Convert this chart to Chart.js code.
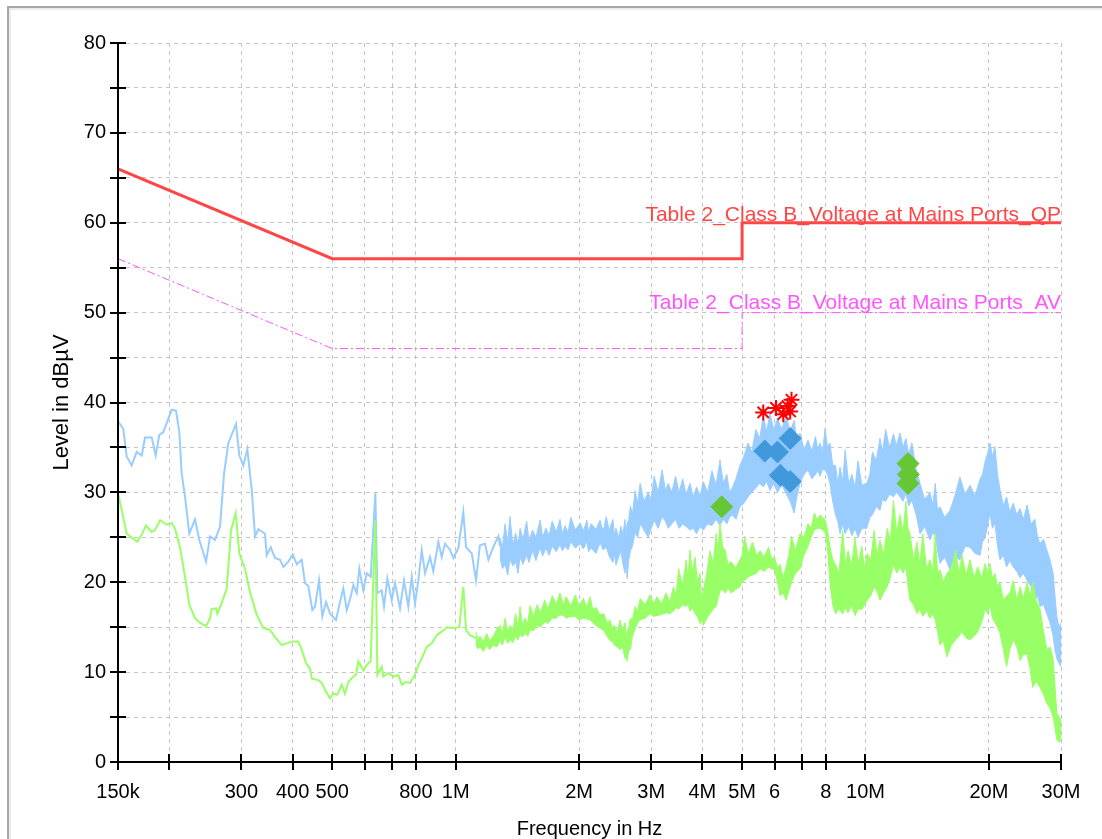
<!DOCTYPE html>
<html><head><meta charset="utf-8">
<script src="https://cdn.jsdelivr.net/npm/chart.js@4.4.1/dist/chart.umd.min.js"></script>
<style>
html,body{margin:0;padding:0;background:#fff;overflow:hidden;}
#wrap{position:relative;width:1102px;height:839px;overflow:hidden;}
#frame{position:absolute;left:7px;top:6px;width:1200px;height:1000px;border-left:2px solid #a8a8a8;border-top:2px solid #a8a8a8;box-shadow:inset 2px 2px 0 #ececec;pointer-events:none;}
canvas{position:absolute;left:0;top:0;}
</style></head><body>
<div id="wrap"><canvas id="c" width="1102" height="839"></canvas><div id="frame"></div></div>
<script>
// ---- axis ticks (frequency in MHz) ----
const xTickValues = [0.15,0.2,0.3,0.4,0.5,0.6,0.7,0.8,1,2,3,4,5,6,7,8,10,20,30];
const xTickLabels = ['150k','','300','400','500','','','800','1M','2M','3M','4M','5M','6','','8','10M','20M','30M'];
const yTickValues = [0,5,10,15,20,25,30,35,40,45,50,55,60,65,70,75,80];
const yTickLabels = ['0','','10','','20','','30','','40','','50','','60','','70','','80'];

// ---- limit lines ----
const qpFreq  = [0.15, 0.5, 5, 5, 30];
const qpLevel = [66, 56, 56, 60, 60];
const avFreq  = [0.15, 0.5, 5, 5, 30];
const avLevel = [56, 46, 46, 50, 50];
const qpLabel = 'Table 2_Class B_Voltage at Mains Ports_QP';
const avLabel = 'Table 2_Class B_Voltage at Mains Ports_AV';

// ---- peak trace (blue): single line part [MHz, dBuV] ----
const pkLine = [[0.150,37.9],[0.1545,37.1],[0.1575,34.0],[0.162,33.0],[0.1666,34.5],[0.1714,34.1],[0.1746,36.1],[0.1813,36.1],[0.1854,34.1],[0.1892,36.4],[0.1935,36.7],[0.2028,39.2],[0.2078,39.1],[0.2117,36.7],[0.2145,32.1],[0.2186,29.5],[0.2239,25.4],[0.2312,27.0],[0.2369,24.7],[0.246,22.3],[0.2516,25.1],[0.2587,24.7],[0.2661,26.2],[0.2722,32.1],[0.2788,35.5],[0.2911,37.6],[0.2966,34.1],[0.3033,33.0],[0.3102,34.8],[0.318,30.3],[0.3239,25.1],[0.330,25.9],[0.3426,25.4],[0.3459,23.0],[0.3538,23.9],[0.3624,22.7],[0.3728,22.5],[0.3798,21.7],[0.3906,22.3],[0.4004,23.1],[0.4095,22.0],[0.4211,22.5],[0.429,19.9],[0.437,19.6],[0.447,16.9],[0.4538,17.3],[0.4641,20.2],[0.4728,16.2],[0.4828,17.8],[0.4937,16.5],[0.5106,15.8],[0.5222,17.8],[0.532,19.3],[0.5423,16.9],[0.5545,18.4],[0.5627,19.7],[0.5736,18.8],[0.582,21.5],[0.5953,19.1],[0.6068,21.0],[0.6205,20.6],[0.6368,29.9],[0.644,18.8],[0.660,19.1],[0.6687,17.3],[0.6813,20.4],[0.6983,18.0],[0.7113,19.9],[0.7315,17.1],[0.7482,20.2],[0.7665,17.3],[0.7814,20.6],[0.7959,17.6],[0.8109,20.2],[0.8265,23.6],[0.8419,21.0],[0.8659,22.8],[0.8822,21.2],[0.9073,24.5],[0.9248,22.8],[0.9422,24.3],[0.9691,23.6],[0.9871,22.7],[1.015,23.8],[1.044,27.8],[1.060,23.9],[1.095,23.2],[1.121,20.2],[1.146,24.1],[1.179,24.3],[1.202,22.5],[1.235,23.9],[1.271,25.1],[1.283,24.0]];
// ---- peak trace (blue): dense part [MHz, high, low] ----
const pkBand = [[1.283,25.0,22.8],[1.30,23.8,21.5],[1.32,26.5,22.0],[1.34,24.5,20.8],[1.357,27.3,22.6],[1.38,24.0,21.8],[1.40,25.5,22.3],[1.42,24.2,21.0],[1.436,26.0,22.8],[1.46,24.8,22.0],[1.49,26.8,23.0],[1.51,24.6,22.2],[1.54,25.8,23.5],[1.57,25.0,22.4],[1.607,26.9,23.9],[1.63,25.0,22.9],[1.66,26.0,23.8],[1.69,25.2,23.0],[1.72,26.8,24.0],[1.76,25.6,23.4],[1.797,27.0,24.2],[1.82,25.4,23.5],[1.85,26.3,24.0],[1.88,25.5,23.6],[1.91,27.2,24.5],[1.96,25.8,23.8],[2.012,26.6,24.3],[2.05,25.7,23.7],[2.09,26.9,24.5],[2.11,25.6,23.4],[2.14,26.5,23.8],[2.2,25.9,23.2],[2.251,26.9,24.4],[2.29,25.6,23.6],[2.33,27.3,23.9],[2.37,25.8,22.9],[2.42,27.0,22.2],[2.44,25.2,23.3],[2.46,26.0,21.9],[2.50,25.0,22.8],[2.53,26.2,23.5],[2.56,25.4,22.0],[2.59,27.0,21.0],[2.605,25.0,22.5],[2.62,26.5,20.4],[2.645,27.0,22.5],[2.67,28.5,23.5],[2.70,27.5,24.0],[2.74,30.2,25.5],[2.78,28.8,25.0],[2.82,31.0,26.5],[2.88,29.0,25.8],[2.95,30.0,25.0],[3.00,29.2,26.0],[3.05,31.8,26.9],[3.12,30.0,26.0],[3.19,32.5,27.3],[3.25,30.2,26.8],[3.30,31.0,26.0],[3.37,30.0,26.5],[3.44,31.8,27.0],[3.51,30.0,26.0],[3.58,31.5,26.5],[3.65,29.8,26.2],[3.731,31.0,25.8],[3.80,29.5,26.0],[3.87,30.6,25.4],[3.95,29.6,26.2],[4.02,31.2,25.8],[4.12,30.0,26.5],[4.22,32.4,26.3],[4.32,30.8,27.0],[4.416,33.6,26.3],[4.50,31.0,27.0],[4.59,32.0,26.5],[4.66,30.0,27.2],[4.73,30.5,27.5],[4.83,31.5,27.0],[4.94,33.0,28.4],[5.05,34.0,28.8],[5.17,35.5,29.5],[5.28,34.5,30.0],[5.40,37.0,30.5],[5.52,36.0,31.0],[5.63,38.5,30.6],[5.74,36.8,31.2],[5.85,38.8,30.2],[5.97,37.0,31.0],[6.1,38.2,30.0],[6.25,37.0,30.8],[6.4,38.6,29.9],[6.55,36.8,29.0],[6.7,38.0,27.7],[6.8,35.5,29.5],[6.92,36.6,31.0],[7.08,34.8,32.0],[7.24,35.8,32.5],[7.4,34.6,31.5],[7.55,36.2,32.0],[7.65,34.8,32.4],[7.75,35.5,31.8],[7.86,34.5,32.6],[7.97,37.1,32.5],[8.08,35.0,32.0],[8.19,35.5,31.0],[8.32,33.0,29.0],[8.45,33.0,27.5],[8.56,31.0,26.8],[8.67,32.8,25.4],[8.8,31.2,26.5],[8.92,34.7,25.4],[9.1,31.0,26.2],[9.27,32.0,25.2],[9.43,30.5,26.0],[9.59,33.5,25.0],[9.8,30.8,26.0],[10.07,31.0,26.0],[10.25,32.0,27.2],[10.4,34.5,27.5],[10.62,33.5,28.4],[10.85,36.0,28.0],[11.0,34.5,29.2],[11.2,37.0,29.0],[11.45,35.0,29.8],[11.7,36.5,29.5],[11.9,35.2,30.0],[12.14,36.6,29.5],[12.35,35.0,29.0],[12.55,36.0,29.9],[12.75,34.2,28.5],[12.98,35.5,29.1],[13.3,32.5,27.5],[13.59,31.0,25.4],[13.95,29.2,26.2],[14.37,30.0,24.7],[14.6,28.6,25.5],[14.8,31.0,25.2],[15.0,28.0,23.5],[15.2,28.4,22.1],[15.6,27.2,22.8],[16.08,28.0,21.4],[16.5,29.5,22.8],[17.0,31.7,22.5],[17.5,29.8,24.0],[18.0,30.8,23.9],[18.5,29.6,23.2],[19.04,31.5,23.0],[19.3,32.0,24.5],[19.6,33.5,25.0],[19.9,34.5,26.5],[20.14,35.5,27.7],[20.4,34.0,26.0],[20.7,35.1,26.6],[21.0,32.0,24.0],[21.3,30.3,22.5],[21.7,28.5,23.0],[22.1,29.5,21.7],[22.5,27.8,22.4],[22.95,28.8,21.7],[23.4,27.5,21.2],[23.84,28.2,20.5],[24.3,27.0,21.0],[24.8,28.6,20.2],[25.35,26.5,19.5],[25.9,27.0,18.0],[26.3,25.0,18.5],[26.67,24.3,17.3],[27.2,24.8,17.5],[27.7,23.6,16.5],[28.2,22.5,15.5],[28.7,21.0,14.0],[29.0,18.5,12.5],[29.3,16.2,11.5],[29.65,15.0,11.0],[30,15.5,10.6]];

// ---- average trace (green): single line part ----
const avgLine = [[0.150,29.9],[0.1532,28.0],[0.1575,25.4],[0.1672,24.5],[0.1714,25.3],[0.1755,26.3],[0.1813,25.6],[0.1847,25.8],[0.190,26.9],[0.1973,26.4],[0.2028,26.6],[0.2066,26.0],[0.2125,23.9],[0.2186,20.6],[0.2239,17.5],[0.2312,16.0],[0.2378,15.5],[0.246,15.1],[0.2516,16.0],[0.2538,17.0],[0.2602,17.1],[0.2621,16.5],[0.2686,17.7],[0.2763,19.3],[0.2831,25.8],[0.2906,27.7],[0.2966,23.2],[0.3062,21.5],[0.3149,18.9],[0.327,16.4],[0.3394,14.9],[0.3524,14.7],[0.3624,13.9],[0.3763,13.0],[0.3871,13.2],[0.4004,13.4],[0.4131,13.4],[0.4211,12.5],[0.4314,11.0],[0.4412,10.4],[0.4455,9.3],[0.4623,9.1],[0.4713,8.8],[0.4828,7.8],[0.4937,7.1],[0.5029,7.6],[0.5143,7.5],[0.5272,8.6],[0.537,7.6],[0.5471,8.9],[0.5627,9.5],[0.5714,9.7],[0.5788,11.2],[0.5953,10.2],[0.6068,10.8],[0.6205,11.2],[0.6275,18.4],[0.6368,26.9],[0.644,9.7],[0.660,10.6],[0.666,9.5],[0.685,9.9],[0.7045,9.5],[0.7246,9.7],[0.7386,8.6],[0.7567,8.9],[0.7739,8.8],[0.7959,9.7],[0.8109,10.8],[0.8265,11.5],[0.850,12.8],[0.8743,13.2],[0.8992,14.1],[0.9248,14.5],[0.9511,15.0],[0.9871,14.9],[1.0207,15.0],[1.044,19.5],[1.060,14.7],[1.084,14.1],[1.12,13.8]];
// ---- average trace (green): dense part [MHz, high, low] ----
const avgBand = [[1.12,14.5,13.0],[1.133,13.6,12.6],[1.146,14.0,12.8],[1.17,13.4,12.3],[1.19,14.3,13.0],[1.21,13.5,12.5],[1.235,14.0,13.0],[1.26,14.8,12.8],[1.283,15.2,13.5],[1.30,14.2,13.0],[1.32,16.0,13.9],[1.34,14.5,13.2],[1.357,15.2,13.6],[1.38,14.6,13.3],[1.40,16.5,14.0],[1.42,15.0,13.6],[1.436,17.3,14.2],[1.455,15.2,13.9],[1.475,16.0,14.3],[1.50,15.4,14.0],[1.519,17.4,14.7],[1.55,16.2,14.6],[1.58,17.5,15.2],[1.61,16.6,15.0],[1.65,18.0,15.6],[1.68,17.0,15.4],[1.72,18.5,16.0],[1.76,17.6,16.0],[1.797,18.8,16.4],[1.83,17.5,16.3],[1.86,18.4,16.0],[1.91,17.4,16.2],[1.96,18.6,16.2],[2.00,17.4,15.8],[2.05,18.2,16.0],[2.09,17.2,15.9],[2.128,18.4,15.8],[2.16,17.0,15.5],[2.2,17.2,15.2],[2.25,16.4,14.9],[2.30,16.5,14.6],[2.34,15.5,14.0],[2.381,15.8,13.5],[2.41,14.9,13.4],[2.44,15.2,13.0],[2.48,14.5,12.8],[2.519,15.8,12.5],[2.555,14.6,12.8],[2.59,15.5,11.5],[2.605,14.0,12.0],[2.62,14.5,11.2],[2.645,15.0,12.5],[2.67,16.0,12.5],[2.70,15.8,14.0],[2.74,17.3,14.8],[2.78,16.8,15.5],[2.82,18.2,15.8],[2.90,17.5,16.0],[2.98,18.6,16.5],[3.04,17.6,16.2],[3.1,18.4,16.3],[3.18,17.6,16.4],[3.26,18.8,16.6],[3.33,17.8,16.5],[3.4,19.5,16.8],[3.45,18.5,17.2],[3.5,21.5,17.0],[3.58,19.6,17.5],[3.65,22.5,17.3],[3.69,20.5,17.6],[3.73,23.6,16.8],[3.78,21.0,17.2],[3.84,22.8,16.5],[3.89,20.0,16.2],[3.947,21.0,15.4],[3.98,18.2,15.8],[4.02,19.0,15.2],[4.1,21.0,16.0],[4.175,23.5,16.5],[4.25,22.0,17.0],[4.32,25.4,17.3],[4.37,23.5,18.2],[4.416,26.6,19.0],[4.48,24.0,19.2],[4.55,23.5,18.8],[4.62,22.0,19.4],[4.7,22.3,18.8],[4.82,21.6,19.2],[4.94,22.5,19.5],[5.0,23.0,20.0],[5.07,25.1,20.2],[5.18,23.2,20.6],[5.3,24.5,20.8],[5.42,23.0,21.0],[5.53,23.5,21.5],[5.66,22.8,21.2],[5.8,23.9,21.7],[5.9,22.6,21.5],[6.0,22.8,21.4],[6.1,21.6,20.0],[6.19,22.0,18.5],[6.3,20.5,18.8],[6.4,21.7,18.0],[6.5,23.0,19.0],[6.6,25.1,20.0],[6.75,23.5,21.0],[6.92,25.4,21.5],[7.08,25.0,23.0],[7.24,26.5,24.0],[7.37,26.0,25.0],[7.5,27.7,25.8],[7.62,27.0,26.0],[7.75,27.5,26.0],[7.87,27.2,25.8],[8.0,26.8,25.4],[8.1,25.5,23.0],[8.19,24.0,20.0],[8.32,22.5,17.5],[8.45,22.0,16.5],[8.62,21.0,17.0],[8.8,25.8,16.5],[8.93,22.0,17.2],[9.07,23.5,16.6],[9.25,21.8,17.4],[9.43,25.0,16.3],[9.6,22.0,17.0],[9.8,24.0,17.0],[9.95,21.5,17.5],[10.1,23.2,18.0],[10.3,22.5,18.5],[10.5,25.8,19.5],[10.67,23.0,19.0],[10.85,24.7,18.0],[11.07,23.0,18.8],[11.3,26.0,19.5],[11.5,24.5,20.5],[11.7,29.1,22.0],[11.92,25.5,21.0],[12.14,27.5,21.7],[12.35,25.5,21.0],[12.55,29.0,21.7],[12.7,26.0,19.5],[12.84,25.4,18.0],[13.1,22.5,17.5],[13.35,24.5,16.5],[13.57,22.0,17.0],[13.8,25.4,16.2],[14.1,21.5,16.8],[14.37,22.5,16.0],[14.6,21.2,16.5],[14.8,25.4,15.8],[15.0,21.0,14.5],[15.2,21.4,13.0],[15.5,20.0,13.5],[15.8,21.0,11.7],[16.2,21.5,13.0],[16.6,23.6,13.6],[16.9,21.0,14.0],[17.2,23.0,14.5],[17.6,20.8,13.8],[18.0,22.5,13.6],[18.4,20.5,14.0],[18.8,21.7,14.5],[19.2,20.5,15.5],[19.6,22.1,17.0],[19.87,21.0,16.5],[20.14,22.1,17.5],[20.4,20.4,16.0],[20.7,21.0,15.5],[21.0,19.5,15.0],[21.3,20.0,14.3],[21.7,18.0,12.5],[22.1,18.5,10.6],[22.5,18.8,12.5],[22.95,20.2,13.6],[23.4,18.0,12.8],[23.84,19.5,11.3],[24.3,18.2,12.0],[24.8,20.0,12.0],[25.2,18.5,10.5],[25.6,20.0,8.3],[26.1,18.0,9.0],[26.67,17.0,8.3],[27.2,14.5,7.5],[27.7,12.5,6.5],[28.2,12.8,6.0],[28.7,11.5,5.0],[29.0,8.5,3.8],[29.3,5.5,2.5],[29.65,5.0,2.2],[30,4.7,2.4]];

// ---- final measurement markers ----
const qpMarks = [[5.63,38.9],[6.05,39.4],[6.3,38.7],[6.45,39.6],[6.6,40.3],[6.55,39.0]];
const pkMarks = [[5.68,34.6],[6.1,34.5],[6.55,36.0],[6.2,31.9],[6.55,31.2]];
const avMarks = [[4.46,28.4],[12.7,33.2],[12.72,32.0],[12.7,31.0]];

const FONT = "'Liberation Sans', Arial, sans-serif";
const C_QP = '#ff4646', C_AV = '#ff55ff', C_PK = '#99ccff', C_AVG = '#99ff66';

const pts = (rows, i) => rows.map(r => ({x: r[0], y: r[i]}));
const zip = (fx, fy) => fx.map((f, i) => ({x: f, y: fy[i]}));

const lineDs = (data, color, extra) => Object.assign({data, borderColor: color, backgroundColor: color, borderWidth: 2, pointRadius: 0, tension: 0, fill: false}, extra || {});

const datasets = [
  {data: pts(qpMarks,1), showLine:false, pointStyle:'star', pointRadius:8, pointBorderColor:'#ff0000', pointBorderWidth:2, borderColor:'#ff0000'},
  {data: pts(pkMarks,1), showLine:false, pointStyle:'rectRot', pointRadius:11, pointBackgroundColor:'#4199dc', pointBorderColor:'#4199dc', pointBorderWidth:1},
  {data: pts(avMarks,1), showLine:false, pointStyle:'rectRot', pointRadius:11, pointBackgroundColor:'#66c633', pointBorderColor:'#66c633', pointBorderWidth:1},
  lineDs(zip(qpFreq, qpLevel), C_QP, {borderWidth: 3}),
  lineDs(zip(avFreq, avLevel), C_AV, {borderWidth: 1, borderDash: [8,3,2,3]}),
  lineDs(pts(avgLine,1), C_AVG),
  lineDs(pts(avgBand,1), C_AVG, {borderWidth: 1, fill: '+1'}),
  lineDs(pts(avgBand,2), C_AVG, {borderWidth: 1}),
  lineDs(pts(pkLine,1), C_PK),
  lineDs(pts(pkBand,1), C_PK, {borderWidth: 1, fill: '+1'}),
  lineDs(pts(pkBand,2), C_PK, {borderWidth: 1})
];

const axesPlugin = {
  id: 'axesOverlay',
  afterDatasetsDraw(chart) {
    const {ctx, chartArea: a, scales: {x, y}} = chart;
    ctx.save();
    ctx.strokeStyle = '#000';
    ctx.lineWidth = 2;
    ctx.beginPath();
    ctx.moveTo(a.left, a.top); ctx.lineTo(a.left, a.bottom); ctx.lineTo(a.right, a.bottom);
    x.ticks.forEach(t => { const px = Math.round(x.getPixelForValue(t.value)); ctx.moveTo(px, a.bottom - 8); ctx.lineTo(px, a.bottom + 8); });
    y.ticks.forEach(t => { const py = Math.round(y.getPixelForValue(t.value)); ctx.moveTo(a.left - 8, py); ctx.lineTo(a.left + 8, py); });
    ctx.stroke();
    ctx.font = '21px ' + FONT;
    ctx.textAlign = 'right';
    ctx.textBaseline = 'alphabetic';
    ctx.fillStyle = C_QP;
    ctx.fillText(qpLabel, x.getPixelForValue(qpFreq[qpFreq.length-1]), y.getPixelForValue(qpLevel[qpLevel.length-1]) - 2);
    ctx.fillStyle = C_AV;
    ctx.fillText(avLabel, x.getPixelForValue(avFreq[avFreq.length-1]), y.getPixelForValue(avLevel[avLevel.length-1]) - 4);
    ctx.restore();
  }
};

new Chart(document.getElementById('c'), {
  type: 'line',
  data: {datasets},
  plugins: [axesPlugin],
  options: {
    responsive: false,
    animation: false,
    devicePixelRatio: 1,
    layout: {padding: {left: 0, top: 43, right: 41, bottom: 0}},
    plugins: {legend: {display: false}, tooltip: {enabled: false}},
    scales: {
      x: {
        type: 'logarithmic', min: 0.15, max: 30,
        afterBuildTicks: s => { s.ticks = xTickValues.map(v => ({value: v})); },
        afterFit: s => { s.height = 77; },
        ticks: {autoSkip: false, maxRotation: 0, minRotation: 0, padding: 18, color: '#000', font: {family: FONT, size: 20}, callback: (v, i) => xTickLabels[i]},
        grid: {color: '#c4c4c4', lineWidth: 1, drawTicks: false},
        border: {display: false, dash: [4, 4]},
        title: {display: true, text: 'Frequency in Hz', color: '#000', font: {family: FONT, size: 20, lineHeight: 1}, padding: {top: 0, bottom: 0}}
      },
      y: {
        type: 'linear', min: 0, max: 80,
        afterBuildTicks: s => { s.ticks = yTickValues.map(v => ({value: v})); },
        afterFit: s => { s.width = 118; },
        ticks: {autoSkip: false, padding: 12, color: '#000', font: {family: FONT, size: 20}, callback: (v, i) => yTickLabels[i]},
        grid: {color: '#c4c4c4', lineWidth: 1, drawTicks: false},
        border: {display: false, dash: [4, 4]},
        title: {display: true, text: 'Level in dBµV', color: '#000', font: {family: FONT, size: 22, lineHeight: 1}, padding: {top: 51, bottom: 0}}
      }
    }
  }
});
</script>
</body></html>
